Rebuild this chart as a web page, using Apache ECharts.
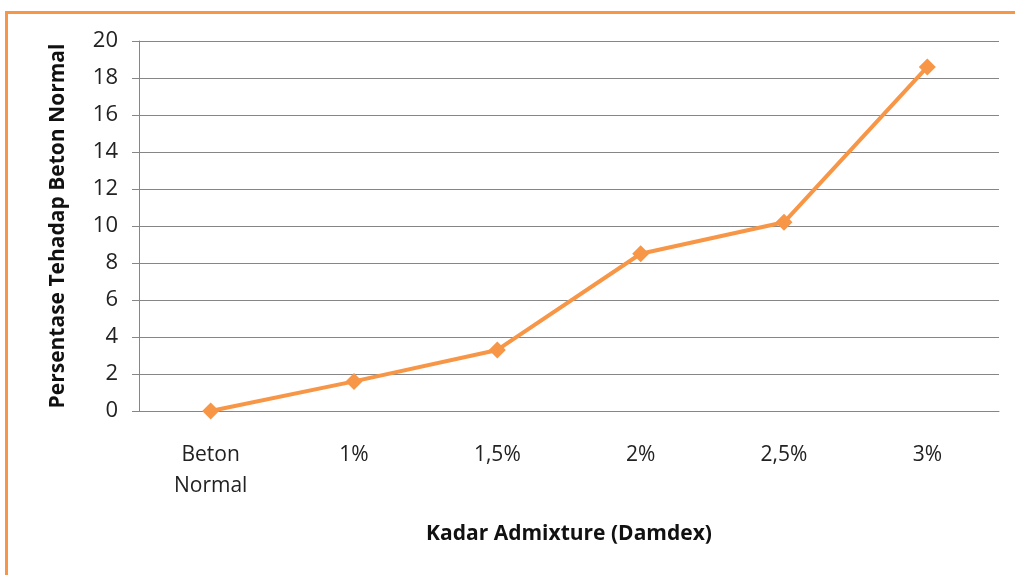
<!DOCTYPE html>
<html>
<head>
<meta charset="utf-8">
<script src="https://cdn.jsdelivr.net/npm/echarts@6/dist/echarts.min.js"></script>
<style>
  html, body { margin: 0; padding: 0; background: #fff; }
  #frame {
    position: absolute; left: 5px; top: 11px; width: 1010px; height: 564px;
    border-top: 3px solid #F79646; border-left: 3px solid #F79646;
    box-sizing: border-box;
  }
  #main { position: absolute; left: 0; top: 0; width: 1015px; height: 575px; }
</style>
</head>
<body>
<div id="frame"></div>
<div id="main"></div>
<script>
// kadar admixture categories
const categories = ["Beton\nNormal", "1%", "1,5%", "2%", "2,5%", "3%"];
// persentase terhadap beton normal
const values = [0, 1.6, 3.3, 8.5, 10.2, 18.6];
const yTicks = { min: 0, max: 20, step: 2 };

const font = "'Open Sans', 'Noto Sans', sans-serif";
const chart = echarts.init(document.getElementById("main"));

chart.setOption({
  animation: false,
  grid: { left: 139, right: 16, top: 41, bottom: 164 },
  xAxis: {
    type: "category",
    data: categories,
    name: "Kadar Admixture (Damdex)",
    nameLocation: "middle",
    nameGap: 113,
    nameTextStyle: { fontFamily: font, fontSize: 21, fontWeight: "bold", color: "#111" },
    axisLine: { lineStyle: { color: "#868686", width: 1 } },
    axisTick: { show: false },
    axisLabel: { fontFamily: font, fontSize: 21, color: "#222", margin: 29, lineHeight: 31 }
  },
  yAxis: {
    type: "value",
    min: yTicks.min,
    max: yTicks.max,
    interval: yTicks.step,
    name: "Persentase Tehadap Beton Normal",
    nameLocation: "middle",
    nameGap: 70,
    nameTextStyle: { fontFamily: font, fontSize: 21, fontWeight: "bold", color: "#111" },
    axisLine: { show: true, lineStyle: { color: "#868686", width: 1 } },
    axisTick: { show: true, length: 7, lineStyle: { color: "#868686" } },
    axisLabel: { fontFamily: font, fontSize: 22, color: "#222", margin: 21 },
    splitLine: { lineStyle: { color: "#868686", width: 1 } }
  },
  series: [{
    type: "line",
    data: values,
    symbol: "diamond",
    symbolSize: 17,
    lineStyle: { color: "#F79646", width: 4 },
    itemStyle: { color: "#F79646" }
  }]
});
</script>
</body>
</html>
